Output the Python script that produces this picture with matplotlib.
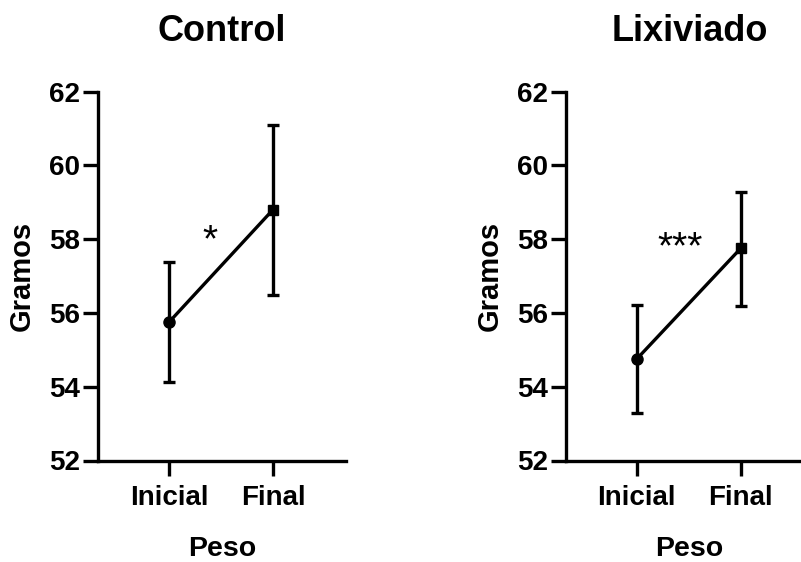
import matplotlib
matplotlib.use("Agg")
import matplotlib.pyplot as plt

plt.rcParams['font.family'] = ['Liberation Sans', 'DejaVu Sans']
plt.rcParams['font.weight'] = 'bold'

# Peso (g) at the start and end of the trial, mean with error bars
groups = ["Control", "Lixiviado"]
timepoints = ["Inicial", "Final"]
control_mean = [55.75, 58.80]
control_err_low = [1.62, 2.30]
control_err_high = [1.62, 2.30]
lixiviado_mean = [54.75, 57.75]
lixiviado_err_low = [1.45, 1.55]
lixiviado_err_high = [1.47, 1.52]
significance = ["*", "***"]
sig_pos = [(0.39, 57.68), (0.417, 57.48)]
yticks = [52, 54, 56, 58, 60, 62]

means = [control_mean, lixiviado_mean]
errs = [(control_err_low, control_err_high), (lixiviado_err_low, lixiviado_err_high)]

W, H = 801, 562
fig = plt.figure(figsize=(W / 100, H / 100), dpi=100)

ax_h = 368.8 / H
ax_w = 247.7 / W
bottom = 1 - 460.5 / H
lefts = [98 / W, 565.7 / W]

LW = 2.4
for i, g in enumerate(groups):
    ax = fig.add_axes([lefts[i], bottom, ax_w, ax_h])
    x = list(range(len(timepoints)))
    ax.plot(x, means[i], color='black', lw=LW, zorder=2)
    ax.errorbar(x, means[i], yerr=[errs[i][0], errs[i][1]], fmt='none',
                ecolor='black', elinewidth=LW, capsize=4, capthick=LW, zorder=3)
    ax.plot(x[0], means[i][0], 'o', color='black', ms=8, zorder=4)
    ax.plot(x[1], means[i][1], 's', color='black', ms=7, zorder=4)

    ax.text(sig_pos[i][0], sig_pos[i][1], significance[i], ha='center', va='baseline',
            fontsize=28, fontweight='normal')

    ax.set_xlim(-0.683, 1.70)
    ax.set_ylim(52, 62)
    ax.set_yticks(yticks)
    ax.set_xticks(x)
    ax.set_xticklabels(timepoints)
    for s in ['top', 'right']:
        ax.spines[s].set_visible(False)
    for s in ['left', 'bottom']:
        ax.spines[s].set_linewidth(LW)
        ax.spines[s].set_capstyle('projecting')
    ax.tick_params(axis='both', length=10.8, width=LW)
    ax.tick_params(axis='y', pad=2, labelsize=20)
    ax.tick_params(axis='x', pad=7, labelsize=20)

    ax.set_ylabel("Gramos", fontsize=21, fontweight='bold')
    ax.yaxis.label.set_va('center')
    ax.yaxis.set_label_coords(-0.307, 0.5)
    ax.set_xlabel("Peso", fontsize=20.5, fontweight='bold')
    ax.xaxis.label.set_va('center')
    ax.xaxis.set_label_coords(0.5, -0.24)

    ax.text(0.5, 1.162, g, transform=ax.transAxes, ha='center', va='center',
            fontsize=26, fontweight='bold')
    ax.patch.set_visible(False)
    for lab in ax.get_xticklabels() + ax.get_yticklabels():
        lab.set_fontweight('bold')

fig.savefig("out.png", dpi=100, facecolor='white')
